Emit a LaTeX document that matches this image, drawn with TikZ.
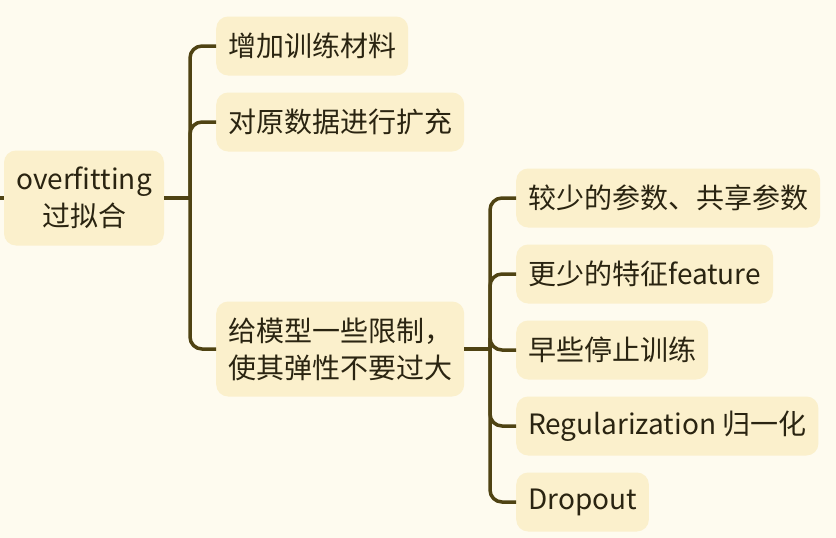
\documentclass[tikz,border=0pt]{standalone}
\usepackage{fontspec}
\setmainfont{Noto Sans CJK SC}
\usetikzlibrary{positioning}

\definecolor{bgcream}{HTML}{FEFBEF}
\definecolor{boxfill}{HTML}{FBF0CC}
\definecolor{linebrown}{HTML}{4F4313}
\definecolor{inkdark}{HTML}{2A2411}

\tikzset{
    topic/.style={fill=boxfill, rounded corners=12pt, text=inkdark, inner xsep=12pt, inner ysep=0pt,
        minimum height=59pt, font=\fontsize{28}{37}\selectfont, align=center},
    branch/.style={draw=linebrown, line width=3.5pt, rounded corners=12pt},
}

\begin{document}
\begin{tikzpicture}[x=1pt, y=-1pt]
    % Canvas
    \fill[bgcream] (0,0) rectangle (836,538);
    \useasboundingbox (0,0) rectangle (836,538);
    % Root
    \node[topic, minimum height=95pt, minimum width=160pt] (root) at (84,198) {overfitting\\过拟合};
    % First level
    \node[topic, anchor=west] (more) at (216,46) {增加训练材料};
    \node[topic, anchor=west] (augment) at (216,122) {对原数据进行扩充};
    \node[topic, anchor=west, minimum height=95pt, align=left] (limit) at (216,349) {给模型一些限制，\\使其弹性不要过大};
    % Second level
    \node[topic, anchor=west] (params) at (516,198) {较少的参数、共享参数};
    \node[topic, anchor=west] (feature) at (516,274) {更少的特征feature};
    \node[topic, anchor=west] (early) at (516,350) {早些停止训练};
    \node[topic, anchor=west] (regular) at (516,426) {Regularization 归一化};
    \node[topic, anchor=west] (dropout) at (516,502) {Dropout};
    % Junctions
    \coordinate (in) at (0,198);
    \coordinate (trunk) at (190,198);
    \coordinate (subtrunk) at (490,349);
    % Connectors
    \draw[branch] (in) -- (root.west);
    \draw[branch] (root.east) -- (trunk);
    \draw[branch] (trunk) |- (more.west);
    \draw[branch] (trunk) |- (augment.west);
    \draw[branch] (trunk) |- (limit.west);
    \draw[branch] (limit.east) -- (subtrunk);
    \foreach \leaf in {params, feature, early, regular, dropout}
        \draw[branch] (subtrunk) |- (\leaf.west);
\end{tikzpicture}
\end{document}
